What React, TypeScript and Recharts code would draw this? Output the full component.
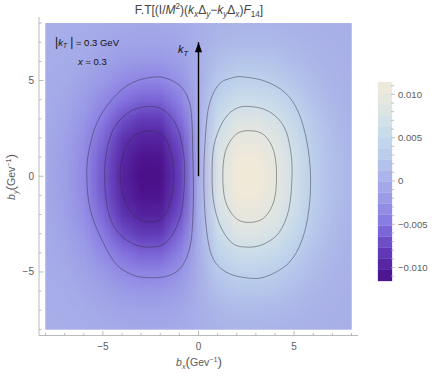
import React, { useMemo } from 'react';
import { ComposedChart, XAxis, YAxis, Line, ReferenceArea } from 'recharts';

// ---------------- data ----------------
// density grid: columns x = -8..8 (step 1), rows y = 8..-8 (step 1)
const GRID_X = [-8, -7, -6, -5, -4, -3, -2, -1, 0, 1, 2, 3, 4, 5, 6, 7, 8];
const GRID_Y = [8, 7, 6, 5, 4, 3, 2, 1, 0, -1, -2, -3, -4, -5, -6, -7, -8];
const HEAT: number[][] = [
  [-0.00003, -0.00008, -0.00018, -0.00033, -0.00049, -0.00057, -0.00057, -0.00039, 0, 0.00039, 0.00057, 0.00057, 0.00049, 0.00033, 0.00018, 0.00008, 0.00003],
  [-0.00006, -0.00016, -0.00035, -0.00066, -0.00098, -0.00114, -0.00113, -0.00078, 0, 0.00078, 0.00113, 0.00114, 0.00098, 0.00066, 0.00035, 0.00016, 0.00006],
  [-0.00012, -0.00032, -0.0007, -0.00132, -0.00196, -0.00228, -0.00226, -0.00156, 0, 0.00156, 0.00226, 0.00228, 0.00196, 0.00132, 0.0007, 0.00032, 0.00012],
  [-0.0002, -0.00054, -0.00119, -0.00224, -0.00333, -0.00388, -0.00384, -0.00265, 0, 0.00265, 0.00384, 0.00388, 0.00333, 0.00224, 0.00119, 0.00054, 0.0002],
  [-0.00031, -0.00083, -0.00182, -0.00343, -0.0051, -0.00593, -0.00588, -0.00406, 0, 0.00406, 0.00588, 0.00593, 0.0051, 0.00343, 0.00182, 0.00083, 0.00031],
  [-0.00043, -0.00114, -0.00249, -0.00469, -0.00696, -0.00809, -0.00802, -0.00554, 0, 0.00554, 0.00802, 0.00809, 0.00696, 0.00469, 0.00249, 0.00114, 0.00043],
  [-0.00052, -0.00139, -0.00305, -0.00574, -0.00853, -0.00992, -0.00983, -0.00679, 0, 0.00679, 0.00983, 0.00992, 0.00853, 0.00574, 0.00305, 0.00139, 0.00052],
  [-0.00058, -0.00155, -0.0034, -0.0064, -0.00951, -0.01106, -0.01096, -0.00757, 0, 0.00757, 0.01096, 0.01106, 0.00951, 0.0064, 0.0034, 0.00155, 0.00058],
  [-0.0006, -0.0016, -0.0035, -0.0066, -0.0098, -0.0114, -0.0113, -0.0078, 0, 0.0078, 0.0113, 0.0114, 0.0098, 0.0066, 0.0035, 0.0016, 0.0006],
  [-0.00058, -0.00155, -0.0034, -0.0064, -0.00951, -0.01106, -0.01096, -0.00757, 0, 0.00757, 0.01096, 0.01106, 0.00951, 0.0064, 0.0034, 0.00155, 0.00058],
  [-0.00052, -0.00139, -0.00305, -0.00574, -0.00853, -0.00992, -0.00983, -0.00679, 0, 0.00679, 0.00983, 0.00992, 0.00853, 0.00574, 0.00305, 0.00139, 0.00052],
  [-0.00043, -0.00114, -0.00249, -0.00469, -0.00696, -0.00809, -0.00802, -0.00554, 0, 0.00554, 0.00802, 0.00809, 0.00696, 0.00469, 0.00249, 0.00114, 0.00043],
  [-0.00031, -0.00083, -0.00182, -0.00343, -0.0051, -0.00593, -0.00588, -0.00406, 0, 0.00406, 0.00588, 0.00593, 0.0051, 0.00343, 0.00182, 0.00083, 0.00031],
  [-0.0002, -0.00054, -0.00119, -0.00224, -0.00333, -0.00388, -0.00384, -0.00265, 0, 0.00265, 0.00384, 0.00388, 0.00333, 0.00224, 0.00119, 0.00054, 0.0002],
  [-0.00012, -0.00032, -0.0007, -0.00132, -0.00196, -0.00228, -0.00226, -0.00156, 0, 0.00156, 0.00226, 0.00228, 0.00196, 0.00132, 0.0007, 0.00032, 0.00012],
  [-0.00006, -0.00016, -0.00035, -0.00066, -0.00098, -0.00114, -0.00113, -0.00078, 0, 0.00078, 0.00113, 0.00114, 0.00098, 0.00066, 0.00035, 0.00016, 0.00006],
  [-0.00003, -0.00008, -0.00018, -0.00033, -0.00049, -0.00057, -0.00057, -0.00039, 0, 0.00039, 0.00057, 0.00057, 0.00049, 0.00033, 0.00018, 0.00008, 0.00003],
];

// contour lines
const LEFT_OUTER = [
  { x: -2.09, y: 5.19 }, { x: -1.04, y: 4.79 }, { x: -0.52, y: 4.0 }, { x: -0.35, y: 2.96 },
  { x: -0.3, y: 1.22 }, { x: -0.26, y: -0.53 }, { x: -0.3, y: -2.27 }, { x: -0.44, y: -3.66 },
  { x: -0.87, y: -4.71 }, { x: -1.57, y: -5.2 }, { x: -2.61, y: -5.3 }, { x: -3.48, y: -5.14 },
  { x: -4.36, y: -4.53 }, { x: -5.14, y: -3.14 }, { x: -5.66, y: -1.75 }, { x: -5.84, y: -0.18 },
  { x: -5.75, y: 1.22 }, { x: -5.31, y: 2.79 }, { x: -4.53, y: 4.0 }, { x: -3.48, y: 4.88 },
];
const LEFT_MIDDLE = [
  { x: -2.44, y: 3.65 }, { x: -1.74, y: 3.39 }, { x: -1.13, y: 2.61 }, { x: -0.78, y: 1.22 },
  { x: -0.73, y: -0.18 }, { x: -0.87, y: -1.74 }, { x: -1.22, y: -2.79 }, { x: -1.74, y: -3.49 },
  { x: -2.44, y: -3.7 }, { x: -3.31, y: -3.58 }, { x: -4.18, y: -2.96 }, { x: -4.7, y: -1.92 },
  { x: -4.91, y: -0.18 }, { x: -4.79, y: 1.39 }, { x: -4.36, y: 2.61 }, { x: -3.48, y: 3.44 },
];
const LEFT_INNER = [
  { x: -2.53, y: 2.38 }, { x: -1.83, y: 2.09 }, { x: -1.43, y: 1.22 }, { x: -1.31, y: 0 },
  { x: -1.43, y: -1.22 }, { x: -1.83, y: -2.1 }, { x: -2.53, y: -2.41 }, { x: -3.31, y: -2.1 },
  { x: -3.87, y: -1.22 }, { x: -4.1, y: 0 }, { x: -3.92, y: 1.22 }, { x: -3.4, y: 2.09 },
];
const RIGHT_OUTER = [
  { x: 2.37, y: 5.19 }, { x: 3.5, y: 4.96 }, { x: 4.55, y: 4.35 }, { x: 5.24, y: 3.31 },
  { x: 5.68, y: 1.74 }, { x: 5.86, y: 0 }, { x: 5.77, y: -1.75 }, { x: 5.42, y: -3.31 },
  { x: 4.72, y: -4.53 }, { x: 3.5, y: -5.25 }, { x: 2.46, y: -5.3 }, { x: 1.41, y: -4.99 },
  { x: 0.71, y: -4.19 }, { x: 0.4, y: -2.62 }, { x: 0.28, y: -0.53 }, { x: 0.33, y: 1.56 },
  { x: 0.54, y: 3.65 }, { x: 1.06, y: 4.79 }, { x: 1.76, y: 5.14 },
];
const RIGHT_MIDDLE = [
  { x: 2.63, y: 3.65 }, { x: 3.68, y: 3.39 }, { x: 4.46, y: 2.61 }, { x: 4.81, y: 1.39 },
  { x: 4.89, y: 0 }, { x: 4.72, y: -1.75 }, { x: 4.2, y: -2.96 }, { x: 3.33, y: -3.58 },
  { x: 2.46, y: -3.7 }, { x: 1.76, y: -3.49 }, { x: 1.15, y: -2.62 }, { x: 0.8, y: -1.4 },
  { x: 0.71, y: 0 }, { x: 0.8, y: 1.56 }, { x: 1.24, y: 2.79 }, { x: 1.85, y: 3.48 },
];
const RIGHT_INNER = [
  { x: 2.63, y: 2.38 }, { x: 3.41, y: 2.17 }, { x: 3.94, y: 1.3 }, { x: 4.08, y: 0 },
  { x: 3.94, y: -1.31 }, { x: 3.41, y: -2.18 }, { x: 2.63, y: -2.41 }, { x: 1.94, y: -2.18 },
  { x: 1.41, y: -1.31 }, { x: 1.27, y: 0 }, { x: 1.41, y: 1.3 }, { x: 1.94, y: 2.17 },
];
const CONTOURS = [LEFT_OUTER, LEFT_MIDDLE, LEFT_INNER, RIGHT_OUTER, RIGHT_MIDDLE, RIGHT_INNER];

// k_T arrow
const ARROW = [{ x: 0, y: 0 }, { x: 0, y: 7 }];

// frame ticks
const FRAME_TICKS = [-8, -7, -6, -5, -4, -3, -2, -1, 0, 1, 2, 3, 4, 5, 6, 7, 8];
const FRAME_MAJOR = [-5, 0, 5];
const FRAME_LABELS = ['−5', '0', '5'];

// color bar
const LEGEND_MIN = -0.01155;
const LEGEND_MAX = 0.01143;
const LEGEND_TICKS = [-0.011, -0.01, -0.009, -0.008, -0.007, -0.006, -0.005, -0.004, -0.003, -0.002, -0.001, 0,
  0.001, 0.002, 0.003, 0.004, 0.005, 0.006, 0.007, 0.008, 0.009, 0.01, 0.011];
const LEGEND_MAJOR = [-0.01, -0.005, 0, 0.005, 0.01];
const LEGEND_LABELS = ['−0.010', '−0.005', '0', '0.005', '0.010'];
const LEGEND_BAND_COUNT = 18;

// ---------------- styles ----------------
const FONT = '"Liberation Sans", Arial, Helvetica, sans-serif';
const FRAME = '#a9a9a9';
const LABEL = '#5c5c5c';
const COLOR_STOPS: { v: number; c: number[] }[] = [
  { v: -0.0115, c: [74, 14, 136] },
  { v: -0.008, c: [98, 60, 186] },
  { v: -0.005, c: [134, 118, 225] },
  { v: -0.0025, c: [152, 150, 231] },
  { v: 0, c: [168, 175, 232] },
  { v: 0.0025, c: [182, 200, 235] },
  { v: 0.005, c: [196, 218, 236] },
  { v: 0.008, c: [220, 228, 229] },
  { v: 0.0115, c: [242, 234, 216] },
];

function colorRGB(v: number): number[] {
  const s = COLOR_STOPS;
  if (v <= s[0].v) return s[0].c;
  for (let i = 1; i < s.length; i++) {
    if (v <= s[i].v) {
      const t = (v - s[i - 1].v) / (s[i].v - s[i - 1].v);
      return s[i - 1].c.map((a, k) => Math.round(a + (s[i].c[k] - a) * t));
    }
  }
  return s[s.length - 1].c;
}
const colorCss = (v: number) => {
  const c = colorRGB(v);
  return `rgb(${c[0]},${c[1]},${c[2]})`;
};

const LEGEND_BANDS = Array.from({ length: LEGEND_BAND_COUNT }, (_, i) => {
  const a = LEGEND_MIN + ((LEGEND_MAX - LEGEND_MIN) * i) / LEGEND_BAND_COUNT;
  const b = LEGEND_MIN + ((LEGEND_MAX - LEGEND_MIN) * (i + 1)) / LEGEND_BAND_COUNT;
  return { y1: a, y2: b, color: colorCss((a + b) / 2) };
});
// anchor rows so the colour-bar chart has a data domain
const LEGEND_ANCHOR = [{ x: 0, y: LEGEND_MIN }, { x: 1, y: LEGEND_MAX }];

// closed Catmull-Rom curve for contour loops
function closedCurve(context: any) {
  let pts: number[][] = [];
  return {
    areaStart() {},
    areaEnd() {},
    lineStart() { pts = []; },
    point(x: number, y: number) { pts.push([x, y]); },
    lineEnd() {
      const n = pts.length;
      if (n < 3) return;
      context.moveTo(pts[0][0], pts[0][1]);
      for (let i = 0; i < n; i++) {
        const p0 = pts[(i - 1 + n) % n];
        const p1 = pts[i];
        const p2 = pts[(i + 1) % n];
        const p3 = pts[(i + 2) % n];
        context.bezierCurveTo(
          p1[0] + (p2[0] - p0[0]) / 6, p1[1] + (p2[1] - p0[1]) / 6,
          p2[0] - (p3[0] - p1[0]) / 6, p2[1] - (p3[1] - p1[1]) / 6,
          p2[0], p2[1]
        );
      }
      context.closePath();
    },
  };
}

function HeatImage(p: any) {
  const { x, y, width, height } = p;
  const url = useMemo(() => {
    const ny = GRID_Y.length;
    const nx = GRID_X.length;
    const cv = document.createElement('canvas');
    cv.width = nx;
    cv.height = ny;
    const ctx = cv.getContext('2d');
    if (!ctx) return '';
    const img = ctx.createImageData(nx, ny);
    HEAT.forEach((row, j) =>
      row.forEach((v, i) => {
        const c = colorRGB(v);
        const k = (j * nx + i) * 4;
        img.data[k] = c[0];
        img.data[k + 1] = c[1];
        img.data[k + 2] = c[2];
        img.data[k + 3] = 255;
      })
    );
    ctx.putImageData(img, 0, 0);
    return cv.toDataURL();
  }, []);
  const cw = width / (GRID_X.length - 1);
  const ch = height / (GRID_Y.length - 1);
  return (
    <g>
      <defs>
        <clipPath id="heat-clip">
          <rect x={x} y={y} width={width} height={height} />
        </clipPath>
      </defs>
      <rect x={x} y={y} width={width} height={height} fill={colorCss(0)} />
      <image
        href={url}
        x={x - cw / 2}
        y={y - ch / 2}
        width={width + cw}
        height={height + ch}
        preserveAspectRatio="none"
        clipPath="url(#heat-clip)"
      />
    </g>
  );
}

const isMajor = (v: number) => FRAME_MAJOR.indexOf(v) >= 0;
const majorLen = 4.5;
const minorLen = 2.5;

const BottomTick = (p: any) => {
  const v = p.payload.value;
  const m = isMajor(v);
  return (
    <g>
      <line x1={p.x} x2={p.x} y1={p.y} y2={p.y - (m ? majorLen : minorLen)} stroke={FRAME} strokeWidth={0.8} />
      {m && (
        <text x={p.x} y={p.y + 14.5} textAnchor="middle" fontSize={10} fill={LABEL} fontFamily={FONT}>
          {FRAME_LABELS[FRAME_MAJOR.indexOf(v)]}
        </text>
      )}
    </g>
  );
};
const TopTick = (p: any) => {
  const m = isMajor(p.payload.value);
  return <line x1={p.x} x2={p.x} y1={p.y} y2={p.y + (m ? majorLen : minorLen)} stroke={FRAME} strokeWidth={0.8} />;
};
const LeftTick = (p: any) => {
  const v = p.payload.value;
  const m = isMajor(v);
  return (
    <g>
      <line x1={p.x} x2={p.x + (m ? majorLen : minorLen)} y1={p.y} y2={p.y} stroke={FRAME} strokeWidth={0.8} />
      {m && (
        <text x={p.x - 5} y={p.y + 3.5} textAnchor="end" fontSize={10} fill={LABEL} fontFamily={FONT}>
          {FRAME_LABELS[FRAME_MAJOR.indexOf(v)]}
        </text>
      )}
    </g>
  );
};
const RightTick = (p: any) => {
  const m = isMajor(p.payload.value);
  return <line x1={p.x} x2={p.x - (m ? majorLen : minorLen)} y1={p.y} y2={p.y} stroke={FRAME} strokeWidth={0.8} />;
};

const LegendTick = (p: any) => {
  const v = p.payload.value;
  const idx = LEGEND_MAJOR.findIndex((m) => Math.abs(m - v) < 1e-9);
  return (
    <g>
      <line x1={p.x - 1} x2={p.x + (idx >= 0 ? 3 : 2.2)} y1={p.y} y2={p.y} stroke={FRAME} strokeWidth={0.7} />
      {idx >= 0 && (
        <text x={p.x + 6} y={p.y + 3.4} fontSize={9.6} fill={LABEL} fontFamily={FONT}>
          {LEGEND_LABELS[idx]}
        </text>
      )}
    </g>
  );
};

const ArrowDot = (p: any) => {
  if (p.index !== 1) return <g key={`a${p.index}`} />;
  const { cx, cy } = p;
  return <path key="ahead" d={`M${cx},${cy} L${cx - 3.6},${cy + 10} L${cx + 3.6},${cy + 10} Z`} fill="#000" />;
};

type Seg = { t: string; i?: boolean; sub?: boolean; sup?: boolean; s?: number };
function Rich({ segs, size }: { segs: Seg[]; size: number }) {
  let cur = 0;
  return (
    <>
      {segs.map((g, k) => {
        const target = g.sub ? size * 0.3 : g.sup ? -size * 0.4 : 0;
        const dy = target - cur;
        cur = target;
        const fs = g.s ?? (g.sub || g.sup ? size * 0.68 : size);
        return (
          <tspan key={k} dy={dy} fontStyle={g.i ? 'italic' : 'normal'} fontSize={fs}>
            {g.t}
          </tspan>
        );
      })}
    </>
  );
}

const TITLE: Seg[] = [
  { t: 'F.T[(I/' }, { t: 'M', i: true }, { t: '2', sup: true }, { t: ')(' },
  { t: 'k', i: true }, { t: 'x', i: true, sub: true }, { t: 'Δ' }, { t: 'y', i: true, sub: true },
  { t: '−' }, { t: 'k', i: true }, { t: 'y', i: true, sub: true }, { t: 'Δ' }, { t: 'x', i: true, sub: true },
  { t: ')' }, { t: 'F', i: true }, { t: '14', sub: true }, { t: ']' },
];
const XLABEL: Seg[] = [
  { t: 'b', i: true }, { t: 'x', i: true, sub: true }, { t: '(', s: 13.5 }, { t: 'Gev' },
  { t: '−1', sup: true }, { t: ')', s: 13.5 },
];
const YLABEL: Seg[] = [
  { t: 'b', i: true }, { t: 'y', i: true, sub: true }, { t: '(', s: 13.5 }, { t: 'Gev' },
  { t: '−1', sup: true }, { t: ')', s: 13.5 },
];
const KT_BOX: Seg[] = [
  { t: '|', s: 12 }, { t: 'k', i: true }, { t: 'T', i: true, sub: true }, { t: ' |', s: 12 },
  { t: ' = 0.3 GeV' },
];
const X_TEXT: Seg[] = [{ t: 'x', i: true }, { t: ' = 0.3' }];
const KT_ARROW: Seg[] = [{ t: 'k', i: true }, { t: 'T', i: true, sub: true }];

export default function App() {
  return (
    <div style={{ position: 'absolute', left: 0, top: 0, width: 436, height: 379, background: '#fff', fontFamily: FONT }}>
      <div style={{ position: 'absolute', left: 0, top: 0 }}>
        <ComposedChart width={436} height={379} margin={{ top: 17, right: 78, bottom: 13.5, left: 4 }}>
          <XAxis xAxisId="b" type="number" dataKey="x" domain={[-8.34, 8.34]} allowDataOverflow
            ticks={FRAME_TICKS} interval={0} tickSize={0} tickMargin={0} height={30}
            axisLine={{ stroke: FRAME, strokeWidth: 0.8 }} tickLine={false} tick={<BottomTick />} />
          <XAxis xAxisId="t" orientation="top" type="number" dataKey="x" domain={[-8.34, 8.34]} allowDataOverflow
            ticks={FRAME_TICKS} interval={0} tickSize={0} tickMargin={0} height={0}
            axisLine={{ stroke: FRAME, strokeWidth: 0.8 }} tickLine={false} tick={<TopTick />} />
          <YAxis yAxisId="l" type="number" dataKey="y" domain={[-8.32, 8.32]} allowDataOverflow
            ticks={FRAME_TICKS} interval={0} tickSize={0} tickMargin={0} width={35}
            axisLine={{ stroke: FRAME, strokeWidth: 0.8 }} tickLine={false} tick={<LeftTick />} />
          <YAxis yAxisId="r" orientation="right" type="number" dataKey="y" domain={[-8.32, 8.32]} allowDataOverflow
            ticks={FRAME_TICKS} interval={0} tickSize={0} tickMargin={0} width={0}
            axisLine={{ stroke: FRAME, strokeWidth: 0.8 }} tickLine={false} tick={<RightTick />} />
          <ReferenceArea xAxisId="b" yAxisId="l" x1={GRID_X[0]} x2={GRID_X[GRID_X.length - 1]}
            y1={GRID_Y[GRID_Y.length - 1]} y2={GRID_Y[0]} ifOverflow="visible"
            shape={(p: any) => <HeatImage {...p} />} />
          {CONTOURS.map((c, i) => (
            <Line key={`c${i}`} xAxisId="b" yAxisId="l" data={c} dataKey="y" type={closedCurve as any}
              stroke="#2c2c3c" strokeOpacity={0.5} strokeWidth={0.9} dot={false} activeDot={false}
              isAnimationActive={false} />
          ))}
          <Line xAxisId="b" yAxisId="l" data={ARROW} dataKey="y" type="linear" stroke="#000" strokeWidth={1.4}
            dot={ArrowDot} activeDot={false} isAnimationActive={false} />
        </ComposedChart>
      </div>
      <div style={{ position: 'absolute', left: 0, top: 0 }}>
        <ComposedChart width={436} height={379} data={LEGEND_ANCHOR}
          margin={{ top: 82, right: 4, bottom: 98, left: 378 }}>
          <XAxis type="number" dataKey="x" domain={[0, 1]} allowDataOverflow hide />
          <YAxis orientation="right" type="number" dataKey="y" domain={[LEGEND_MIN, LEGEND_MAX]} allowDataOverflow
            ticks={LEGEND_TICKS} interval={0} tickSize={0} tickMargin={0} width={40} axisLine={false}
            tickLine={false} tick={<LegendTick />} />
          {LEGEND_BANDS.map((b, i) => (
            <ReferenceArea key={`lb${i}`} x1={0} x2={1} y1={b.y1} y2={b.y2} fill={b.color} fillOpacity={1}
              stroke={b.color} strokeWidth={0.3} ifOverflow="visible" />
          ))}
          <Line dataKey="y" stroke="none" dot={false} activeDot={false} isAnimationActive={false} />
        </ComposedChart>
      </div>
      <svg width={436} height={379} style={{ position: 'absolute', left: 0, top: 0, pointerEvents: 'none' }}
        fontFamily={FONT}>
        <text x={199} y={13.5} textAnchor="middle" fill="#444" fontSize={12}>
          <Rich segs={TITLE} size={12} />
        </text>
        <text x={199} y={366} textAnchor="middle" fill={LABEL} fontSize={10.5}>
          <Rich segs={XLABEL} size={10.5} />
        </text>
        <text x={15} y={177} textAnchor="middle" fill={LABEL} fontSize={10.5} transform="rotate(-90 15 177)">
          <Rich segs={YLABEL} size={10.5} />
        </text>
        <text x={55} y={45.5} fill="#111" fontSize={9.5}>
          <Rich segs={KT_BOX} size={9.5} />
        </text>
        <text x={78} y={64.5} fill="#111" fontSize={9.5}>
          <Rich segs={X_TEXT} size={9.5} />
        </text>
        <text x={178} y={53} fill="#111" fontSize={11}>
          <Rich segs={KT_ARROW} size={11} />
        </text>
      </svg>
    </div>
  );
}
